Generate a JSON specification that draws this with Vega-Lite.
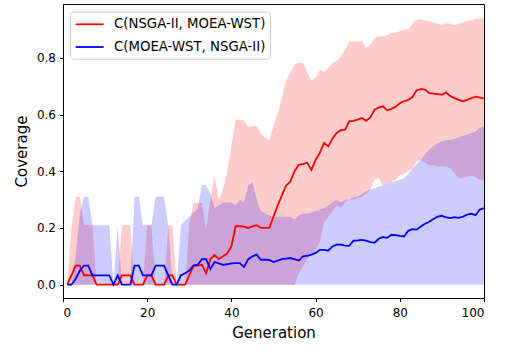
{
 "$schema": "https://vega.github.io/schema/vega-lite/v6.json",
 "width": 421, "height": 294,
 "autosize": {"type": "none"},
 "padding": {"left": 63, "top": 4, "right": 28, "bottom": 57},
 "config": {
  "view": {"stroke": "black", "strokeWidth": 1},
  "font": "DejaVu Sans",
  "axis": {"domainColor": "black", "tickColor": "black", "labelColor": "black", "titleColor": "black", "labelFontSize": 12, "titleFontSize": 15, "titleFontWeight": "normal", "tickSize": 3.5, "grid": false, "labelFont": "DejaVu Sans", "titleFont": "DejaVu Sans", "labelPadding": 4}
 },
 "datasets": {
  "red": [
   {"g":1,"m":0,"lo":0,"hi":0},{"g":2,"m":0.033,"lo":0,"hi":0.2},{"g":3,"m":0.067,"lo":0,"hi":0.31},{"g":4,"m":0.067,"lo":0,"hi":0.31},{"g":5,"m":0.033,"lo":0,"hi":0.21},
   {"g":6,"m":0.033,"lo":0,"hi":0.21},{"g":7,"m":0.033,"lo":0,"hi":0.21},{"g":8,"m":0,"lo":0,"hi":0},{"g":9,"m":0,"lo":0,"hi":0},{"g":10,"m":0,"lo":0,"hi":0},
   {"g":11,"m":0,"lo":0,"hi":0},{"g":12,"m":0,"lo":0,"hi":0},{"g":13,"m":0,"lo":0,"hi":0},{"g":14,"m":0.033,"lo":0,"hi":0.21},{"g":15,"m":0.033,"lo":0,"hi":0.21},
   {"g":16,"m":0.033,"lo":0,"hi":0.21},{"g":17,"m":0,"lo":0,"hi":0},{"g":18,"m":0,"lo":0,"hi":0},{"g":19,"m":0,"lo":0,"hi":0},{"g":20,"m":0.033,"lo":0,"hi":0.21},
   {"g":21,"m":0.033,"lo":0,"hi":0.21},{"g":22,"m":0,"lo":0,"hi":0},{"g":23,"m":0,"lo":0,"hi":0},{"g":24,"m":0,"lo":0,"hi":0},{"g":25,"m":0.033,"lo":0,"hi":0.21},
   {"g":26,"m":0.033,"lo":0,"hi":0.21},{"g":27,"m":0,"lo":0,"hi":0},{"g":28,"m":0,"lo":0,"hi":0},{"g":29,"m":0,"lo":0,"hi":0},{"g":30,"m":0.033,"lo":0,"hi":0.21},
   {"g":31,"m":0.067,"lo":0,"hi":0.288},{"g":32,"m":0.067,"lo":0,"hi":0.288},{"g":33,"m":0.07,"lo":0,"hi":0.288},{"g":34,"m":0.04,"lo":0,"hi":0.194},{"g":35,"m":0.09,"lo":0,"hi":0.3},
   {"g":36,"m":0.105,"lo":0,"hi":0.384},{"g":37,"m":0.09,"lo":0,"hi":0.3},{"g":38,"m":0.1,"lo":0,"hi":0.335},{"g":39,"m":0.11,"lo":0,"hi":0.4},{"g":40,"m":0.135,"lo":0,"hi":0.49},
   {"g":41,"m":0.206,"lo":0,"hi":0.582},{"g":42,"m":0.206,"lo":0,"hi":0.582},{"g":43,"m":0.205,"lo":0,"hi":0.578},{"g":44,"m":0.2,"lo":0,"hi":0.556},{"g":45,"m":0.206,"lo":0,"hi":0.56},
   {"g":46,"m":0.21,"lo":0,"hi":0.56},{"g":47,"m":0.2,"lo":0,"hi":0.535},{"g":48,"m":0.2,"lo":0,"hi":0.517},{"g":49,"m":0.2,"lo":0,"hi":0.51},{"g":50,"m":0.24,"lo":0,"hi":0.56},
   {"g":51,"m":0.28,"lo":0,"hi":0.606},{"g":52,"m":0.315,"lo":0,"hi":0.66},{"g":53,"m":0.35,"lo":0,"hi":0.72},{"g":54,"m":0.363,"lo":0,"hi":0.75},{"g":55,"m":0.4,"lo":0,"hi":0.776},
   {"g":56,"m":0.423,"lo":0.04,"hi":0.782},{"g":57,"m":0.425,"lo":0.065,"hi":0.782},{"g":58,"m":0.43,"lo":0.09,"hi":0.75},{"g":59,"m":0.405,"lo":0.11,"hi":0.72},{"g":60,"m":0.44,"lo":0.125,"hi":0.73},
   {"g":61,"m":0.465,"lo":0.15,"hi":0.758},{"g":62,"m":0.5,"lo":0.22,"hi":0.75},{"g":63,"m":0.488,"lo":0.24,"hi":0.765},{"g":64,"m":0.515,"lo":0.26,"hi":0.782},{"g":65,"m":0.535,"lo":0.28,"hi":0.788},
   {"g":66,"m":0.545,"lo":0.27,"hi":0.805},{"g":67,"m":0.547,"lo":0.29,"hi":0.83},{"g":68,"m":0.576,"lo":0.3,"hi":0.858},{"g":69,"m":0.578,"lo":0.3,"hi":0.858},{"g":70,"m":0.582,"lo":0.305,"hi":0.858},
   {"g":71,"m":0.588,"lo":0.31,"hi":0.86},{"g":72,"m":0.578,"lo":0.32,"hi":0.835},{"g":73,"m":0.59,"lo":0.335,"hi":0.847},{"g":74,"m":0.617,"lo":0.37,"hi":0.87},{"g":75,"m":0.625,"lo":0.375,"hi":0.876},
   {"g":76,"m":0.629,"lo":0.35,"hi":0.876},{"g":77,"m":0.615,"lo":0.355,"hi":0.88},{"g":78,"m":0.62,"lo":0.36,"hi":0.888},{"g":79,"m":0.628,"lo":0.37,"hi":0.89},{"g":80,"m":0.64,"lo":0.385,"hi":0.894},
   {"g":81,"m":0.647,"lo":0.39,"hi":0.9},{"g":82,"m":0.652,"lo":0.4,"hi":0.9},{"g":83,"m":0.662,"lo":0.41,"hi":0.92},{"g":84,"m":0.686,"lo":0.435,"hi":0.935},{"g":85,"m":0.69,"lo":0.44,"hi":0.935},
   {"g":86,"m":0.688,"lo":0.43,"hi":0.932},{"g":87,"m":0.676,"lo":0.42,"hi":0.93},{"g":88,"m":0.674,"lo":0.42,"hi":0.925},{"g":89,"m":0.672,"lo":0.417,"hi":0.92},{"g":90,"m":0.67,"lo":0.417,"hi":0.917},
   {"g":91,"m":0.678,"lo":0.417,"hi":0.922},{"g":92,"m":0.665,"lo":0.41,"hi":0.92},{"g":93,"m":0.658,"lo":0.394,"hi":0.915},{"g":94,"m":0.652,"lo":0.376,"hi":0.92},{"g":95,"m":0.647,"lo":0.376,"hi":0.925},
   {"g":96,"m":0.652,"lo":0.38,"hi":0.93},{"g":97,"m":0.658,"lo":0.385,"hi":0.933},{"g":98,"m":0.663,"lo":0.38,"hi":0.938},{"g":99,"m":0.66,"lo":0.37,"hi":0.94},{"g":100,"m":0.657,"lo":0.37,"hi":0.94}
  ],
  "blue": [
   {"g":1,"m":0,"lo":0,"hi":0},{"g":2,"m":0,"lo":0,"hi":0},{"g":3,"m":0.02,"lo":0,"hi":0.1},{"g":4,"m":0.05,"lo":0,"hi":0.25},{"g":5,"m":0.067,"lo":0,"hi":0.31},
   {"g":6,"m":0.067,"lo":0,"hi":0.31},{"g":7,"m":0.033,"lo":0,"hi":0.21},{"g":8,"m":0.033,"lo":0,"hi":0.21},{"g":9,"m":0.033,"lo":0,"hi":0.21},{"g":10,"m":0.033,"lo":0,"hi":0.21},
   {"g":11,"m":0.033,"lo":0,"hi":0.21},{"g":12,"m":0,"lo":0,"hi":0},{"g":13,"m":0.033,"lo":0,"hi":0.21},{"g":14,"m":0,"lo":0,"hi":0},{"g":15,"m":0,"lo":0,"hi":0},
   {"g":16,"m":0,"lo":0,"hi":0},{"g":17,"m":0.067,"lo":0,"hi":0.31},{"g":18,"m":0.067,"lo":0,"hi":0.31},{"g":19,"m":0.033,"lo":0,"hi":0.21},{"g":20,"m":0.033,"lo":0,"hi":0.21},
   {"g":21,"m":0.033,"lo":0,"hi":0.21},{"g":22,"m":0.067,"lo":0,"hi":0.31},{"g":23,"m":0.067,"lo":0,"hi":0.31},{"g":24,"m":0.067,"lo":0,"hi":0.31},{"g":25,"m":0.033,"lo":0,"hi":0.21},
   {"g":26,"m":0,"lo":0,"hi":0},{"g":27,"m":0,"lo":0,"hi":0},{"g":28,"m":0.033,"lo":0,"hi":0.21},{"g":29,"m":0.04,"lo":0,"hi":0.225},{"g":30,"m":0.05,"lo":0,"hi":0.24},
   {"g":31,"m":0.067,"lo":0,"hi":0.255},{"g":32,"m":0.07,"lo":0,"hi":0.27},{"g":33,"m":0.09,"lo":0,"hi":0.353},{"g":34,"m":0.09,"lo":0,"hi":0.35},{"g":35,"m":0.055,"lo":0,"hi":0.32},
   {"g":36,"m":0.08,"lo":0,"hi":0.27},{"g":37,"m":0.075,"lo":0,"hi":0.28},{"g":38,"m":0.07,"lo":0,"hi":0.29},{"g":39,"m":0.072,"lo":0,"hi":0.29},{"g":40,"m":0.075,"lo":0,"hi":0.29},
   {"g":41,"m":0.076,"lo":0,"hi":0.28},{"g":42,"m":0.076,"lo":0,"hi":0.3},{"g":43,"m":0.062,"lo":0,"hi":0.29},{"g":44,"m":0.09,"lo":0,"hi":0.35},{"g":45,"m":0.1,"lo":0,"hi":0.362},
   {"g":46,"m":0.106,"lo":0,"hi":0.3},{"g":47,"m":0.088,"lo":0,"hi":0.26},{"g":48,"m":0.088,"lo":0,"hi":0.25},{"g":49,"m":0.087,"lo":0,"hi":0.245},{"g":50,"m":0.08,"lo":0,"hi":0.24},
   {"g":51,"m":0.085,"lo":0,"hi":0.24},{"g":52,"m":0.09,"lo":0,"hi":0.24},{"g":53,"m":0.092,"lo":0,"hi":0.24},{"g":54,"m":0.094,"lo":0,"hi":0.24},{"g":55,"m":0.09,"lo":0,"hi":0.23},
   {"g":56,"m":0.085,"lo":0,"hi":0.245},{"g":57,"m":0.1,"lo":0,"hi":0.25},{"g":58,"m":0.102,"lo":0,"hi":0.25},{"g":59,"m":0.106,"lo":0,"hi":0.255},{"g":60,"m":0.112,"lo":0,"hi":0.26},
   {"g":61,"m":0.123,"lo":0,"hi":0.265},{"g":62,"m":0.123,"lo":0,"hi":0.27},{"g":63,"m":0.12,"lo":0,"hi":0.28},{"g":64,"m":0.135,"lo":0,"hi":0.29},{"g":65,"m":0.141,"lo":0,"hi":0.3},
   {"g":66,"m":0.141,"lo":0,"hi":0.29},{"g":67,"m":0.138,"lo":0,"hi":0.3},{"g":68,"m":0.137,"lo":0,"hi":0.3},{"g":69,"m":0.155,"lo":0,"hi":0.31},{"g":70,"m":0.156,"lo":0,"hi":0.31},
   {"g":71,"m":0.158,"lo":0,"hi":0.32},{"g":72,"m":0.155,"lo":0,"hi":0.33},{"g":73,"m":0.15,"lo":0,"hi":0.335},{"g":74,"m":0.148,"lo":0,"hi":0.34},{"g":75,"m":0.162,"lo":0,"hi":0.345},
   {"g":76,"m":0.168,"lo":0,"hi":0.35},{"g":77,"m":0.165,"lo":0,"hi":0.355},{"g":78,"m":0.176,"lo":0,"hi":0.36},{"g":79,"m":0.175,"lo":0,"hi":0.365},{"g":80,"m":0.172,"lo":0,"hi":0.37},
   {"g":81,"m":0.17,"lo":0,"hi":0.375},{"g":82,"m":0.19,"lo":0,"hi":0.39},{"g":83,"m":0.196,"lo":0,"hi":0.41},{"g":84,"m":0.194,"lo":0,"hi":0.425},{"g":85,"m":0.205,"lo":0,"hi":0.44},
   {"g":86,"m":0.215,"lo":0,"hi":0.46},{"g":87,"m":0.222,"lo":0,"hi":0.475},{"g":88,"m":0.232,"lo":0,"hi":0.49},{"g":89,"m":0.24,"lo":0,"hi":0.5},{"g":90,"m":0.243,"lo":0,"hi":0.505},
   {"g":91,"m":0.237,"lo":0,"hi":0.51},{"g":92,"m":0.235,"lo":0,"hi":0.51},{"g":93,"m":0.238,"lo":0,"hi":0.515},{"g":94,"m":0.236,"lo":0,"hi":0.52},{"g":95,"m":0.24,"lo":0,"hi":0.525},
   {"g":96,"m":0.247,"lo":0,"hi":0.53},{"g":97,"m":0.25,"lo":0,"hi":0.535},{"g":98,"m":0.245,"lo":0,"hi":0.54},{"g":99,"m":0.265,"lo":0,"hi":0.553},{"g":100,"m":0.27,"lo":0,"hi":0.56}
  ]
 },
 "encoding": {
  "x": {"field": "g", "type": "quantitative", "scale": {"domain": [0, 100], "nice": false, "zero": false}, "axis": {"title": "Generation", "values": [0, 20, 40, 60, 80, 100], "labelPadding": 6, "titlePadding": 7}}
 },
 "layer": [
  {"data": {"name": "red"}, "mark": {"type": "area", "color": "#ff0000", "opacity": 0.2},
   "encoding": {"y": {"field": "lo", "type": "quantitative", "scale": {"domain": [-0.047, 0.99], "nice": false, "zero": false}, "axis": {"title": "Coverage", "values": [0, 0.2, 0.4, 0.6, 0.8], "format": ".1f", "titlePadding": 7}}, "y2": {"field": "hi"}}},
  {"data": {"name": "blue"}, "mark": {"type": "area", "color": "#0000ff", "opacity": 0.2},
   "encoding": {"y": {"field": "lo", "type": "quantitative", "axis": {"title": "Coverage"}}, "y2": {"field": "hi"}}},
  {"data": {"name": "red"}, "transform": [{"calculate": "'C(NSGA-II, MOEA-WST)'", "as": "s"}], "mark": {"type": "line", "strokeWidth": 1.8},
   "encoding": {"y": {"field": "m", "type": "quantitative", "axis": {"title": "Coverage"}}, "color": {"field": "s", "type": "nominal", "scale": {"domain": ["C(NSGA-II, MOEA-WST)", "C(MOEA-WST, NSGA-II)"], "range": ["#ff0000", "#0000ff"]},
    "legend": {"title": null, "orient": "none", "legendX": 7, "legendY": 7.7, "symbolType": "M-1,0H3", "symbolSize": 196, "symbolStrokeWidth": 1.8, "labelFontSize": 13.3, "labelOffset": 23.4, "padding": 4.6, "rowPadding": 7.7, "strokeColor": "#cccccc", "fillColor": "rgba(255,255,255,0.8)", "cornerRadius": 3, "labelColor": "black", "labelFont": "DejaVu Sans", "labelLimit": 300}}}},
  {"data": {"name": "blue"}, "transform": [{"calculate": "'C(MOEA-WST, NSGA-II)'", "as": "s"}], "mark": {"type": "line", "strokeWidth": 1.8},
   "encoding": {"y": {"field": "m", "type": "quantitative", "axis": {"title": "Coverage"}}, "color": {"field": "s", "type": "nominal"}}}
 ]
}
